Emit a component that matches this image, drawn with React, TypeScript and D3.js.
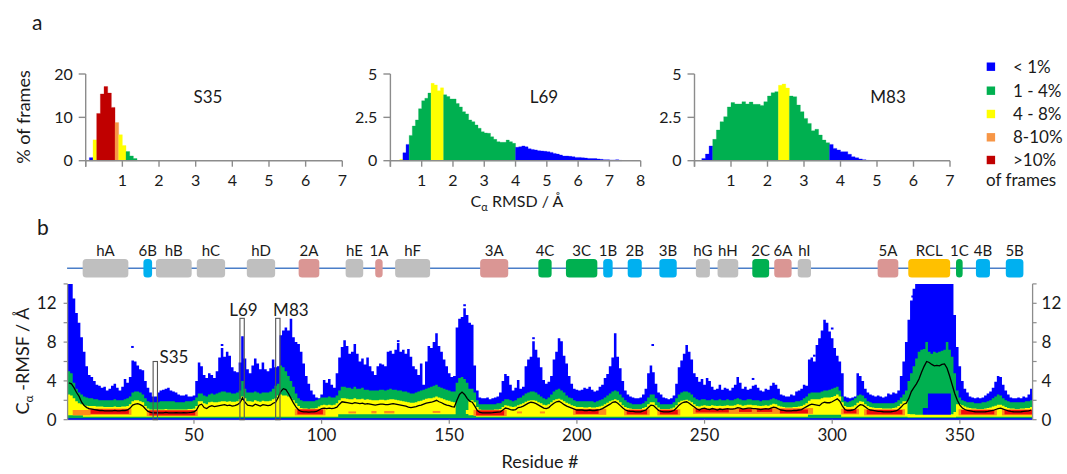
import React from 'react';
import * as d3 from 'd3';

const W = 1067, H = 474;
const FONT = 'Lato, "Open Sans", "DejaVu Sans", sans-serif';

// ---------- legend / colour classes ----------
const CLASS_COLORS = ['#0000FF', '#00B050', '#FFFF00', '#F79646', '#C00000'];
const LEGEND_LABELS = ['< 1%', '1 - 4%', '4 - 8%', '8-10%', '>10%'];

// ---------- panel a: RMSD histograms (bins of 0.1 Å, % of frames) ----------
const S35_START = 0.1;
const S35_PCT = [0.7, 4.8, 10.9, 15.4, 17.1, 15.6, 12.3, 8.8, 6.0, 3.5, 2.1, 1.1, 0.5];
const S35_RUNS = [[1, 0], [1, 2], [5, 4], [1, 3], [2, 2], [3, 1]];

const L69_START = 0.3;
const L69_PCT = [0.08, 0.46, 0.94, 1.46, 2.0, 2.35, 3.0, 3.46, 3.6, 3.9, 4.46, 4.37, 4.04, 4.2, 3.8, 3.7, 3.56, 3.56, 3.3, 3.1,
  2.83, 2.7, 2.35, 2.25, 2.06, 1.87, 1.67, 1.6, 1.58, 1.38, 1.23, 1.1, 1.06, 1.06, 1.19, 1.1, 1.0, 0.77, 0.8, 0.85,
  0.8, 0.69, 0.65, 0.62, 0.58, 0.56, 0.54, 0.52, 0.48, 0.42, 0.38, 0.33, 0.27, 0.27, 0.25, 0.23, 0.19, 0.19, 0.17, 0.15,
  0.13, 0.12, 0.12, 0.1, 0.08, 0.06, 0.06, 0.04, 0.04, 0.06, 0.02];
const L69_RUNS = [[1, 2], [2, 0], [7, 1], [4, 2], [23, 1], [34, 0]];

const M83_START = 0.2;
const M83_PCT = [0.13, 0.38, 0.85, 1.23, 1.77, 2.25, 2.54, 3.1, 3.35, 3.27, 3.27, 3.4, 3.27, 3.38, 3.25, 3.25, 3.19, 3.4, 3.73, 3.92,
  3.98, 4.35, 4.42, 4.19, 3.73, 3.69, 3.21, 2.83, 2.44, 2.15, 1.73, 1.81, 1.48, 1.19, 1.04, 0.94, 0.71, 0.62, 0.52, 0.52,
  0.37, 0.23, 0.17, 0.1, 0.06, 0.02];
const M83_RUNS = [[3, 0], [18, 1], [3, 2], [11, 1], [11, 0]];

// ---------- panel b: secondary structure ----------
const SS_LABELS = ['hA', '6B', 'hB', 'hC', 'hD', '2A', 'hE', '1A', 'hF', '3A', '4C', '3C', '1B', '2B', '3B', 'hG', 'hH', '2C', '6A', 'hI', '5A', 'RCL', '1C', '4B', '5B'];
const SS_TYPE = ['h', 'B', 'h', 'h', 'h', 'A', 'h', 'A', 'h', 'A', 'C', 'C', 'B', 'B', 'B', 'h', 'h', 'C', 'A', 'h', 'A', 'R', 'C', 'B', 'B'];
const SS_START = [6.4, 30.2, 35.1, 51.1, 70.7, 91, 109.4, 121, 128.8, 162.1, 184.9, 195.7, 210.3, 219.9, 232.3, 246.6, 255.1, 268.7, 277.3, 286.5, 317.8, 329.8, 348.5, 356.3, 368];
const SS_END = [24.3, 33.6, 49.1, 62.2, 81.8, 99.1, 116.3, 123.9, 142.5, 173.1, 190.1, 208, 214, 225.4, 239.1, 252.1, 263.2, 275.3, 284.1, 291.7, 325.9, 346.2, 351.1, 361.8, 374.9];
const SS_COLORS: Record<string, string> = { h: '#BFBFBF', A: '#DA9694', B: '#00B0F0', C: '#00B050', R: '#FFC000' };

// ---------- panel b: per-residue RMSF distribution (residues 1..378) ----------
const BLUE_MAX = [
  14, 14, 12.5, 11, 10, 8.5, 7, 5.5, 4.6, 4.4,
  4.0, 3.6, 3.5, 3.3, 3.4, 3.0, 3.2, 3.5, 3.7, 3.3,
  3.0, 3.4, 4.2, 3.8, 4.4, 6.1, 6.0, 5.6, 5.2, 5.1,
  4.0, 3.3, 2.8, 2.4, 2.4, 2.8, 3.0, 3.1, 3.2, 3.3,
  3.0, 2.9, 2.8, 2.6, 2.5, 2.5, 2.6, 2.4, 2.4, 2.5,
  4.0, 5.9, 5.5, 4.6, 4.3, 4.8, 4.6, 4.3, 5.0, 6.4,
  7.4, 6.5, 7.0, 6.6, 5.4, 5.0, 4.9, 5.9, 8.6, 6.3,
  5.2, 4.8, 5.6, 6.3, 5.8, 5.2, 5.9, 5.2, 5.0, 5.3,
  6.2, 5.4, 5.5, 8.7, 9.2, 9.5, 9.2, 10.4, 8.5, 8.0,
  7.8, 7.0, 5.8, 4.5, 3.7, 3.0, 2.6, 2.3, 2.2, 2.6,
  4.1, 3.8, 4.2, 3.6, 3.3, 4.8, 6.4, 7.5, 8.2, 7.6,
  6.8, 7.0, 7.8, 6.8, 6.0, 6.3, 5.7, 6.4, 5.5, 5.0,
  4.6, 5.5, 5.8, 5.7, 5.5, 7.0, 7.1, 6.8, 7.2, 7.9,
  7.0, 7.2, 6.8, 7.3, 6.5, 5.5, 5.2, 4.6, 5.8, 3.6,
  6.0, 7.6, 7.4, 8.0, 8.9, 7.6, 7.0, 6.2, 5.5, 4.8,
  4.4, 4.5, 9.5, 10.4, 10.6, 11.5, 10.8, 10.0, 9.8, 5.6,
  3.0, 2.3, 2.2, 2.2, 2.3, 2.1, 2.2, 2.3, 2.4, 2.8,
  4.0, 4.7, 4.5, 3.6, 3.0, 3.3, 4.1, 3.2, 3.4, 5.5,
  6.2, 6.5, 8.1, 7.2, 6.4, 5.4, 4.1, 3.7, 3.9, 4.5,
  6.2, 7.0, 8.4, 8.1, 6.6, 5.8, 4.5, 3.7, 3.2, 3.1,
  3.0, 3.1, 3.3, 3.2, 3.4, 3.1, 2.9, 3.0, 3.4, 3.6,
  4.3, 4.7, 5.5, 6.4, 8.9, 6.5, 5.3, 4.0, 3.0, 2.6,
  2.4, 2.3, 2.2, 2.2, 2.3, 2.6, 3.2, 4.8, 5.6, 4.9,
  3.7, 2.8, 2.6, 2.3, 2.2, 2.1, 2.2, 2.5, 3.7, 5.4,
  6.1, 6.8, 7.7, 7.0, 6.2, 4.8, 4.4, 3.9, 4.2, 3.6,
  4.3, 4.0, 3.4, 3.1, 3.2, 3.6, 3.1, 3.3, 3.2, 3.0,
  3.3, 3.6, 4.4, 3.8, 3.2, 3.4, 3.1, 3.2, 3.5, 3.6,
  3.3, 3.0, 2.9, 3.2, 3.1, 3.5, 3.8, 3.6, 3.2, 2.6,
  2.5, 2.4, 2.4, 2.6, 2.5, 2.9, 3.0, 3.2, 3.6, 3.5,
  6.2, 6.4, 6.0, 7.7, 8.4, 9.2, 10.3, 10.0, 9.1, 8.4,
  7.4, 6.6, 6.0, 4.8, 2.4, 2.3, 2.2, 2.3, 2.4, 4.8,
  4.5, 4.0, 3.2, 2.8, 2.6, 2.5, 2.4, 2.5, 2.4, 2.3,
  2.4, 2.7, 2.6, 2.8, 2.7, 3.0, 4.5, 6.0, 8.0, 10.3,
  12.3, 13.5, 14, 14, 14, 14, 14, 14, 14, 14,
  14, 14, 14, 14, 14, 14, 14, 10.8, 7.5, 5.5,
  4.0, 3.2, 2.8, 2.4, 2.3, 2.2, 2.3, 2.2, 2.3, 2.5,
  2.7, 2.9, 3.3, 3.9, 4.5, 4.4, 3.6, 3.0, 2.6, 2.3,
  2.2, 2.2, 2.3, 2.2, 2.4, 2.3, 2.6, 3.2,
];

const GREEN_MAX = [
  5.0, 4.8, 3.8, 3.2, 2.8, 2.6, 2.4, 2.3, 2.2, 2.2,
  2.1, 2.1, 2.0, 2.0, 2.0, 2.0, 2.0, 2.0, 2.1, 2.0,
  2.0, 2.0, 2.1, 2.2, 2.4, 2.8, 2.9, 2.9, 2.8, 2.6,
  2.2, 1.9, 1.8, 1.8, 1.8, 1.8, 1.9, 1.9, 1.9, 1.9,
  1.9, 1.9, 1.8, 1.8, 1.8, 1.8, 1.9, 1.9, 1.9, 2.0,
  2.3, 2.7, 2.7, 2.5, 2.4, 2.6, 2.7, 2.6, 2.7, 2.8,
  2.9, 2.9, 2.8, 2.8, 2.7, 2.7, 2.8, 3.0, 4.0, 3.2,
  2.8, 2.8, 2.8, 2.9, 2.8, 2.7, 2.8, 2.8, 2.8, 2.9,
  3.2, 3.5, 3.7, 5.6, 5.4, 5.0, 4.5, 4.0, 3.4, 2.7,
  2.2, 2.0, 1.9, 1.9, 1.9, 1.9, 1.9, 2.0, 2.1, 2.3,
  2.3, 2.3, 2.4, 2.3, 2.3, 2.5, 3.0, 3.4, 3.4, 3.3,
  3.3, 3.2, 3.4, 3.2, 3.2, 3.3, 3.1, 3.1, 3.0, 3.0,
  3.0, 3.0, 3.1, 3.1, 3.0, 3.1, 3.2, 3.1, 3.1, 3.0,
  3.0, 2.9, 2.9, 2.8, 2.7, 2.7, 2.8, 2.9, 3.0, 3.1,
  3.2, 3.3, 3.4, 3.5, 3.6, 3.4, 3.3, 3.2, 3.1, 3.0,
  2.9, 2.9, 3.8, 4.3, 4.4, 4.2, 3.8, 3.2, 3.2, 2.8,
  2.0, 1.6, 1.6, 1.6, 1.6, 1.6, 1.6, 1.6, 1.7, 1.7,
  1.9, 2.1, 2.1, 2.0, 1.9, 2.0, 2.2, 2.3, 2.5, 2.7,
  2.8, 2.9, 2.9, 2.8, 2.6, 2.4, 2.2, 2.1, 2.3, 2.6,
  2.9, 3.1, 3.2, 3.0, 2.8, 2.5, 2.3, 2.2, 2.0, 1.9,
  1.9, 1.9, 1.9, 1.9, 1.9, 1.9, 1.8, 1.9, 2.0, 2.1,
  2.3, 2.5, 2.7, 2.9, 3.0, 2.9, 2.6, 2.3, 2.0, 1.8,
  1.7, 1.6, 1.6, 1.6, 1.6, 1.7, 1.9, 2.3, 2.6, 2.6,
  2.2, 1.8, 1.6, 1.6, 1.6, 1.6, 1.6, 1.8, 2.2, 2.6,
  2.8, 2.9, 2.9, 2.8, 2.6, 2.3, 2.1, 2.0, 2.1, 2.1,
  2.0, 2.0, 2.1, 2.0, 2.0, 2.1, 2.0, 2.0, 2.1, 2.0,
  2.0, 2.1, 2.2, 2.1, 2.0, 2.0, 2.1, 2.1, 2.0, 2.0,
  2.0, 1.9, 2.0, 2.0, 2.0, 2.1, 2.2, 2.1, 2.0, 1.9,
  1.8, 1.8, 1.8, 1.8, 1.8, 1.9, 1.9, 2.0, 2.2, 2.4,
  2.7, 2.8, 2.8, 2.8, 2.8, 2.9, 3.0, 3.0, 3.1, 3.2,
  3.3, 3.4, 3.0, 2.4, 1.9, 1.8, 1.9, 2.0, 2.2, 2.5,
  2.6, 2.5, 2.2, 1.9, 1.8, 1.7, 1.7, 1.7, 1.7, 1.7,
  1.7, 1.7, 1.7, 1.7, 1.8, 2.0, 2.3, 2.6, 3.0, 4.0,
  4.8, 5.5, 6.3, 7.0, 7.2, 7.3, 8.0, 7.0, 6.8, 7.0,
  6.9, 7.0, 7.1, 7.2, 8.0, 7.2, 6.5, 4.8, 3.0, 2.3,
  2.0, 1.9, 1.8, 1.8, 1.8, 1.7, 1.7, 1.7, 1.8, 1.8,
  1.9, 2.0, 2.2, 2.4, 2.6, 2.5, 2.2, 2.0, 1.9, 1.8,
  1.8, 1.8, 1.8, 1.8, 1.8, 1.9, 1.9, 2.0,
];

const YELLOW_MAX = [
  2.6, 2.5, 2.2, 1.9, 1.7, 1.6, 1.5, 1.45, 1.4, 1.4,
  1.4, 1.35, 1.35, 1.35, 1.3, 1.3, 1.3, 1.3, 1.35, 1.3,
  1.3, 1.35, 1.35, 1.4, 1.6, 1.9, 2.0, 2.0, 1.9, 1.8,
  1.4, 1.15, 1.05, 1.05, 1.05, 1.05, 1.05, 1.05, 1.1, 1.05,
  1.05, 1.05, 1.05, 1.05, 1.05, 1.05, 1.05, 1.1, 1.1, 1.15,
  1.4, 1.9, 1.9, 1.7, 1.6, 1.8, 1.85, 1.8, 1.8, 1.85,
  1.9, 1.9, 1.85, 1.9, 1.85, 1.85, 1.9, 2.1, 2.4, 2.2,
  1.9, 1.9, 1.85, 2.0, 1.9, 1.85, 1.95, 1.9, 1.9, 1.95,
  2.1, 2.2, 2.5, 2.6, 2.5, 2.5, 2.4, 2.2, 2.0, 1.7,
  1.4, 1.2, 1.15, 1.15, 1.1, 1.15, 1.15, 1.2, 1.35, 1.5,
  1.55, 1.5, 1.55, 1.5, 1.55, 1.7, 2.0, 2.2, 2.2, 2.15,
  2.1, 2.1, 2.2, 2.1, 2.1, 2.15, 2.05, 2.1, 2.05, 2.0,
  2.0, 2.0, 2.05, 2.05, 2.0, 2.05, 2.1, 2.1, 2.05, 2.0,
  1.95, 1.9, 1.85, 1.8, 1.75, 1.75, 1.8, 1.9, 1.95, 2.05,
  2.15, 2.2, 2.2, 2.3, 2.4, 2.3, 2.2, 2.1, 2.0, 1.95,
  1.85, 1.8, 0, 0, 0, 0, 1.0, 1.9, 2.0, 1.8,
  1.3, 1.05, 1.0, 1.0, 1.0, 1.0, 1.0, 1.05, 1.05, 1.1,
  1.3, 1.5, 1.45, 1.35, 1.3, 1.35, 1.5, 1.6, 1.7, 1.85,
  1.95, 2.0, 2.0, 1.95, 1.8, 1.7, 1.55, 1.5, 1.6, 1.8,
  2.0, 2.1, 2.15, 2.05, 1.9, 1.75, 1.65, 1.5, 1.4, 1.3,
  1.3, 1.3, 1.25, 1.25, 1.3, 1.25, 1.25, 1.3, 1.35, 1.45,
  1.6, 1.75, 1.9, 2.0, 2.1, 2.0, 1.8, 1.5, 1.3, 1.2,
  1.15, 1.1, 1.1, 1.1, 1.1, 1.2, 1.3, 1.6, 1.8, 1.8,
  1.5, 1.25, 1.1, 1.1, 1.1, 1.1, 1.15, 1.25, 1.5, 1.8,
  1.95, 2.0, 2.05, 1.95, 1.8, 1.6, 1.4, 1.35, 1.45, 1.5,
  1.45, 1.4, 1.5, 1.45, 1.4, 1.45, 1.4, 1.45, 1.5, 1.45,
  1.45, 1.5, 1.6, 1.55, 1.45, 1.5, 1.55, 1.55, 1.5, 1.5,
  1.45, 1.4, 1.45, 1.5, 1.45, 1.55, 1.65, 1.6, 1.45, 1.35,
  1.3, 1.25, 1.25, 1.25, 1.3, 1.3, 1.35, 1.4, 1.55, 1.7,
  1.95, 2.1, 2.1, 2.1, 2.1, 2.2, 2.3, 2.3, 2.3, 2.35,
  2.45, 2.6, 2.4, 1.8, 1.4, 1.3, 1.3, 1.35, 1.5, 1.75,
  1.9, 1.85, 1.6, 1.4, 1.3, 1.25, 1.2, 1.2, 1.2, 1.15,
  1.15, 1.15, 1.15, 1.2, 1.25, 1.4, 1.65, 1.9, 1.9, 0.6,
  0.55, 0.55, 0.5, 0.5, 0.5, 0.5, 0.5, 0.5, 0.5, 0.5,
  0.5, 0.5, 0.5, 0.5, 0.5, 0.5, 0.55, 0.8, 1.6, 1.6,
  1.5, 1.35, 1.25, 1.2, 1.15, 1.15, 1.1, 1.1, 1.1, 1.15,
  1.2, 1.25, 1.35, 1.45, 1.55, 1.55, 1.45, 1.3, 1.2, 1.15,
  1.15, 1.1, 1.1, 1.15, 1.15, 1.2, 1.2, 1.3,
];

const MEAN_RMSF = [
  3.8, 3.7, 3.3, 2.8, 2.4, 1.8, 1.45, 1.25, 1.15, 1.1,
  1.05, 1.0, 0.95, 0.95, 0.9, 0.9, 0.9, 0.9, 0.95, 0.9,
  0.9, 0.95, 0.95, 1.0, 1.2, 1.5, 1.6, 1.65, 1.55, 1.4,
  1.1, 0.85, 0.75, 0.7, 0.7, 0.7, 0.7, 0.7, 0.75, 0.7,
  0.7, 0.7, 0.72, 0.7, 0.7, 0.72, 0.7, 0.72, 0.75, 0.8,
  1.0, 1.5, 1.6, 1.25, 1.15, 1.35, 1.45, 1.35, 1.4, 1.45,
  1.5, 1.55, 1.45, 1.5, 1.4, 1.45, 1.55, 1.75, 2.25, 1.8,
  1.5, 1.45, 1.4, 1.6, 1.5, 1.4, 1.55, 1.5, 1.45, 1.5,
  1.7, 1.8, 2.3, 2.9, 3.2, 3.1, 2.7, 2.2, 1.7, 1.3,
  1.0, 0.85, 0.8, 0.8, 0.78, 0.8, 0.8, 0.85, 1.0, 1.15,
  1.2, 1.15, 1.2, 1.15, 1.2, 1.3, 1.6, 1.85, 1.8, 1.75,
  1.7, 1.65, 1.75, 1.7, 1.65, 1.7, 1.6, 1.65, 1.6, 1.55,
  1.5, 1.55, 1.6, 1.6, 1.55, 1.55, 1.6, 1.65, 1.6, 1.55,
  1.5, 1.45, 1.4, 1.3, 1.25, 1.3, 1.35, 1.45, 1.5, 1.6,
  1.7, 1.75, 1.8, 1.9, 2.0, 1.85, 1.75, 1.6, 1.5, 1.45,
  1.35, 1.3, 2.0, 2.6, 2.85, 2.6, 2.2, 1.9, 1.8, 1.4,
  0.95, 0.75, 0.7, 0.7, 0.7, 0.7, 0.72, 0.75, 0.78, 0.8,
  1.0, 1.2, 1.15, 1.05, 1.0, 1.05, 1.25, 1.3, 1.4, 1.55,
  1.7, 1.8, 1.75, 1.65, 1.5, 1.35, 1.2, 1.15, 1.25, 1.5,
  1.7, 1.85, 1.9, 1.75, 1.55, 1.4, 1.3, 1.2, 1.1, 1.0,
  1.0, 1.0, 0.95, 0.95, 1.0, 0.95, 0.95, 1.0, 1.05, 1.15,
  1.3, 1.45, 1.6, 1.8, 1.85, 1.7, 1.45, 1.2, 1.0, 0.9,
  0.85, 0.85, 0.8, 0.8, 0.82, 0.9, 1.0, 1.25, 1.5, 1.45,
  1.2, 0.95, 0.85, 0.8, 0.8, 0.8, 0.85, 0.95, 1.2, 1.5,
  1.7, 1.8, 1.85, 1.7, 1.5, 1.3, 1.1, 1.0, 1.15, 1.2,
  1.1, 1.05, 1.15, 1.1, 1.0, 1.1, 1.05, 1.1, 1.15, 1.1,
  1.1, 1.15, 1.25, 1.2, 1.1, 1.15, 1.2, 1.2, 1.15, 1.15,
  1.1, 1.05, 1.1, 1.15, 1.1, 1.2, 1.3, 1.25, 1.1, 1.0,
  0.95, 0.9, 0.9, 0.9, 0.95, 0.95, 1.0, 1.05, 1.2, 1.35,
  1.5, 1.6, 1.55, 1.5, 1.45, 1.7, 1.8, 1.75, 1.75, 1.85,
  2.0, 2.15, 1.9, 1.4, 1.05, 0.95, 0.95, 1.0, 1.1, 1.35,
  1.55, 1.5, 1.3, 1.1, 1.0, 0.95, 0.9, 0.85, 0.85, 0.82,
  0.8, 0.8, 0.82, 0.85, 0.9, 1.05, 1.3, 1.6, 1.7, 2.2,
  2.9, 3.3, 3.7, 4.2, 4.9, 5.5, 6.0, 5.9, 5.7, 5.55,
  5.6, 5.55, 5.7, 5.75, 5.3, 4.5, 3.6, 2.7, 2.0, 1.5,
  1.2, 1.05, 0.95, 0.9, 0.85, 0.82, 0.8, 0.8, 0.8, 0.82,
  0.85, 0.9, 0.95, 1.05, 1.15, 1.2, 1.1, 1.0, 0.9, 0.85,
  0.82, 0.8, 0.8, 0.82, 0.85, 0.88, 0.9, 1.0,
];

// lower edge of the yellow band: [first residue, last residue, RMSF]
const YELLOW_LOW_SEGS = [[1, 6, 0.45], [7, 106, 0.3], [107, 152, 0.55], [153, 157, 0.6], [158, 160, 0.45], [161, 290, 0.3], [291, 303, 0.5], [304, 329, 0.3], [330, 348, 0.25], [349, 378, 0.3]];
const BLUE_FLOOR = 0.14;
// [first residue, last residue, low RMSF, high RMSF]
const ORANGE_SEGS = [[3, 9, 0.45, 1.0], [9, 25, 0.5, 1.15], [32, 51, 0.38, 1.0], [90, 101, 0.45, 1.12], [111, 113, 0.65, 0.85], [120, 121, 0.65, 0.9], [125, 128, 0.65, 0.9], [144, 146, 0.7, 0.9], [160, 172, 0.38, 1.02], [177, 178, 0.65, 0.85], [186, 187, 0.65, 0.85], [199, 211, 0.5, 1.12], [219, 228, 0.45, 1.08], [232, 240, 0.45, 1.08], [246, 292, 0.6, 1.2], [304, 310, 0.55, 1.12], [313, 328, 0.45, 1.08], [350, 364, 0.45, 1.08], [367, 378, 0.45, 1.08]];
const RED_SEGS = [[10, 24, 0.6, 1.05], [33, 50, 0.45, 0.95], [91, 100, 0.55, 1.05], [161, 171, 0.45, 0.95], [200, 208, 0.6, 1.05], [220, 227, 0.55, 1.0], [233, 239, 0.55, 1.0], [247, 259, 0.75, 1.1], [264, 268, 0.8, 1.1], [271, 276, 0.8, 1.15], [280, 290, 0.65, 1.05], [305, 309, 0.65, 1.05], [314, 327, 0.55, 1.0], [351, 363, 0.55, 1.0], [368, 378, 0.55, 1.0]];
const BLUE_INNER_SEGS = [[336, 337, 0.4, 1.2], [338, 346, 0.35, 2.7]];
const OUTLIERS = [[25.9, 7.5], [61, 7.7], [130, 8.1], [156, 11.8], [183, 8.4], [229.7, 7.7], [269, 4.2], [293, 6.6], [300, 9.4], [331.5, 12.7]];

const MARKED = ['S35', 'L69', 'M83'];
const MARKED_RES = [35, 69, 83];
const MARKED_TOP = [6.0, 10.45, 10.45];

const BOTTOM_RED = '#EE0A0A';
const BOTTOM_ORANGE = '#FF8C1A';

function expandRuns(runs: number[][]) {
  const out: number[] = [];
  runs.forEach(([n, c]) => { for (let i = 0; i < n; i++) out.push(c); });
  return out;
}

function Histogram({ name, start, pct, runs, xMax, yMax, yTicks, x0, x1, labelX }: any) {
  const x = d3.scaleLinear().domain([0, xMax]).range([x0, x1]);
  const y = d3.scaleLinear().domain([0, yMax]).range([160.7, 74]);
  const cls = expandRuns(runs);
  const axisColor = '#8C8C8C';
  const paths: { d: string; c: number }[] = [];
  let i = 0;
  while (i < pct.length) {
    let j = i;
    while (j + 1 < pct.length && cls[j + 1] === cls[i]) j++;
    let d = `M${x(start + i * 0.1)},${y(0)}`;
    for (let k = i; k <= j; k++) {
      d += `L${x(start + k * 0.1)},${y(pct[k])}L${x(start + (k + 1) * 0.1)},${y(pct[k])}`;
    }
    d += `L${x(start + (j + 1) * 0.1)},${y(0)}Z`;
    paths.push({ d, c: cls[i] });
    i = j + 1;
  }
  return (
    <g>
      {paths.map((p, k) => <path key={k} d={p.d} fill={CLASS_COLORS[p.c]} stroke={CLASS_COLORS[p.c]} strokeWidth={0.3} />)}
      <line x1={x(0)} x2={x(0)} y1={y(0) + 6} y2={y(yMax)} stroke={axisColor} strokeWidth={1.4} />
      <line x1={x(0)} x2={x(xMax)} y1={y(0)} y2={y(0)} stroke={axisColor} strokeWidth={1.4} />
      {yTicks.map((t: number) => (
        <g key={t}>
          <line x1={x(0) - 7} x2={x(0)} y1={y(t)} y2={y(t)} stroke={axisColor} strokeWidth={1.4} />
          <text x={x(0) - 13} y={y(t)} dy="0.35em" textAnchor="end" fontSize={16}>{String(t)}</text>
        </g>
      ))}
      {d3.range(0, xMax + 1).map((t) => (
        <g key={t}>
          <line x1={x(t)} x2={x(t)} y1={y(0)} y2={y(0) + 6} stroke={axisColor} strokeWidth={1.4} />
          {t > 0 && <text x={x(t)} y={185.5} textAnchor="middle" fontSize={16}>{t}</text>}
        </g>
      ))}
      <text x={labelX} y={103} textAnchor="middle" fontSize={17}>{name}</text>
    </g>
  );
}

function bandPath(xs: any, ys: any, tops: number[], bots: number[]) {
  const n = tops.length;
  let d = '';
  for (let i = 0; i < n; i++) {
    const r = i + 1;
    const t = Math.max(tops[i], bots[i]);
    d += (i === 0 ? 'M' : 'L') + xs(r - 0.5) + ',' + ys(t) + 'L' + xs(r + 0.5) + ',' + ys(t);
  }
  for (let i = n - 1; i >= 0; i--) {
    const r = i + 1;
    d += 'L' + xs(r + 0.5) + ',' + ys(bots[i]) + 'L' + xs(r - 0.5) + ',' + ys(bots[i]);
  }
  return d + 'Z';
}

export default function App() {
  const N = Math.min(BLUE_MAX.length, GREEN_MAX.length, YELLOW_MAX.length, MEAN_RMSF.length);
  const xs = d3.scaleLinear().domain([0.5, 378.5]).range([67.6, 1032.6]);
  const ys = d3.scaleLinear().domain([0, 14]).range([419.7, 283.9]);
  const residues = d3.range(1, N + 1);

  const yellowLow = residues.map((r) => {
    const s = YELLOW_LOW_SEGS.find((g) => r >= g[0] && r <= g[1]);
    return s ? s[2] : 0.3;
  });
  const zeros = residues.map(() => 0);
  const floor = residues.map(() => BLUE_FLOOR);

  const bluePath = bandPath(xs, ys, BLUE_MAX.slice(0, N), zeros);
  const greenPath = bandPath(xs, ys, GREEN_MAX.slice(0, N), floor);
  const yellowPath = bandPath(xs, ys, YELLOW_MAX.slice(0, N), yellowLow);
  const meanLine = d3.line<number>().x((_, i) => xs(i + 1)).y((v) => ys(v))(MEAN_RMSF.slice(0, N)) || '';

  const segRect = (seg: number[], color: string, k: string) => (
    <rect key={k} x={xs(seg[0] - 0.5)} width={xs(seg[1] + 0.5) - xs(seg[0] - 0.5)} y={ys(seg[3])} height={ys(seg[2]) - ys(seg[3])} fill={color} />
  );

  const axisColor = '#8C8C8C';
  const panels = [
    { name: 'S35', start: S35_START, pct: S35_PCT, runs: S35_RUNS, xMax: 7, yMax: 20, yTicks: [0, 10, 20], x0: 85.7, x1: 342.3, labelX: 208 },
    { name: 'L69', start: L69_START, pct: L69_PCT, runs: L69_RUNS, xMax: 8, yMax: 5, yTicks: [0, 2.5, 5], x0: 390.4, x1: 640.7, labelX: 544 },
    { name: 'M83', start: M83_START, pct: M83_PCT, runs: M83_RUNS, xMax: 7, yMax: 5, yTicks: [0, 2.5, 5], x0: 694.5, x1: 950, labelX: 888 },
  ];

  const ssY = 268.3, ssH = 18.4;

  return (
    <svg width={W} height={H} viewBox={`0 0 ${W} ${H}`} style={{ position: 'absolute', left: 0, top: 0, fontFamily: FONT }} fill="#1a1a1a">
      <rect x={0} y={0} width={W} height={H} fill="#fff" />

      {/* ---------- panel a ---------- */}
      <text x={32} y={30} fontSize={21}>a</text>
      {panels.map((p) => <Histogram key={p.name} {...p} />)}
      <text transform="translate(30,117) rotate(-90)" textAnchor="middle" fontSize={18}>% of frames</text>
      <text x={517} y={207} textAnchor="middle" fontSize={16}>
        <tspan>C</tspan><tspan dy={4} fontSize={11}>α</tspan><tspan dy={-4}> RMSD / Å</tspan>
      </text>
      {LEGEND_LABELS.map((l, i) => {
        const cy = [66.7, 90.7, 114, 137.3, 160][i];
        return (
          <g key={l}>
            <rect x={986.7} y={cy - 4.2} width={8.4} height={8.4} fill={CLASS_COLORS[i]} />
            <text x={1013} y={cy} dy="0.36em" fontSize={17}>{l}</text>
          </g>
        );
      })}
      <text x={986} y={179.5} dy="0.36em" fontSize={17}>of frames</text>

      {/* ---------- panel b ---------- */}
      <text x={37} y={235} fontSize={21}>b</text>
      <line x1={xs(0.3)} x2={xs(374)} y1={ssY} y2={ssY} stroke="#4A7EC8" strokeWidth={1.6} />
      {SS_LABELS.map((l, i) => (
        <g key={l}>
          <rect x={xs(SS_START[i])} width={xs(SS_END[i]) - xs(SS_START[i])} y={ssY - ssH / 2} height={ssH} rx={3.5} fill={SS_COLORS[SS_TYPE[i]]} />
          <text x={(xs(SS_START[i]) + xs(SS_END[i])) / 2} y={256} textAnchor="middle" fontSize={15}>{l}</text>
        </g>
      ))}

      <line x1={xs(0.5)} x2={xs(378.5)} y1={ys(0)} y2={ys(0)} stroke={axisColor} strokeWidth={1} />
      <path d={bluePath} fill="#0000FF" />
      {OUTLIERS.map((o, i) => (
        <rect key={'o' + i} x={xs(o[0]) - 1.3} y={ys(o[1]) - 1} width={2.6} height={2} fill="#0000FF" />
      ))}
      <path d={greenPath} fill="#00B050" />
      {BLUE_INNER_SEGS.map((s, i) => segRect(s, '#0000FF', 'bi' + i))}
      <path d={yellowPath} fill="#FFFF00" />
      {ORANGE_SEGS.map((s, i) => segRect(s, BOTTOM_ORANGE, 'or' + i))}
      {RED_SEGS.map((s, i) => segRect(s, BOTTOM_RED, 'rd' + i))}
      <path d={meanLine} fill="none" stroke="#000" strokeWidth={1.3} />

      {MARKED.map((m, i) => {
        const r = MARKED_RES[i];
        return (
          <rect key={m} x={xs(r - 1)} width={xs(r + 0.7) - xs(r - 1)} y={ys(MARKED_TOP[i])} height={ys(0) - ys(MARKED_TOP[i])} fill="none" stroke="#555" strokeWidth={1.1} />
        );
      })}
      <text x={xs(36.5)} y={ys(5.8)} fontSize={17}>S35</text>
      <text x={xs(69.4)} y={ys(10.7)} textAnchor="middle" fontSize={17}>L69</text>
      <text x={xs(81)} y={ys(10.7)} fontSize={17}>M83</text>

      {/* axes */}
      <line x1={xs(0.5)} x2={xs(0.5)} y1={ys(0)} y2={ys(14)} stroke={axisColor} strokeWidth={1.3} />
      <line x1={xs(378.5)} x2={xs(378.5)} y1={ys(0)} y2={ys(14)} stroke={axisColor} strokeWidth={1.3} />
      {d3.range(0, 15, 2).map((t) => (
        <g key={t}>
          <line x1={xs(0.5) - 4} x2={xs(0.5)} y1={ys(t)} y2={ys(t)} stroke={axisColor} strokeWidth={1.2} />
          <line x1={xs(378.5)} x2={xs(378.5) + 4} y1={ys(t)} y2={ys(t)} stroke={axisColor} strokeWidth={1.2} />
          {t % 4 === 0 && (
            <>
              <text x={xs(0.5) - 11} y={ys(t)} dy="0.35em" textAnchor="end" fontSize={17}>{t}</text>
              <text x={xs(378.5) + 9} y={ys(t)} dy="0.35em" fontSize={17}>{t}</text>
            </>
          )}
        </g>
      ))}
      {d3.range(50, 351, 50).map((t) => (
        <g key={t}>
          <line x1={xs(t)} x2={xs(t)} y1={ys(0)} y2={ys(0) + 4} stroke={axisColor} strokeWidth={1.2} />
          <text x={xs(t)} y={441} textAnchor="middle" fontSize={17}>{t}</text>
        </g>
      ))}
      <text x={540} y={468} textAnchor="middle" fontSize={18}>Residue #</text>
      <text transform="translate(29,361) rotate(-90)" textAnchor="middle" fontSize={18}>
        <tspan>C</tspan><tspan dy={4} fontSize={12}>α</tspan><tspan dy={-4}> -RMSF / Å</tspan>
      </text>
    </svg>
  );
}
